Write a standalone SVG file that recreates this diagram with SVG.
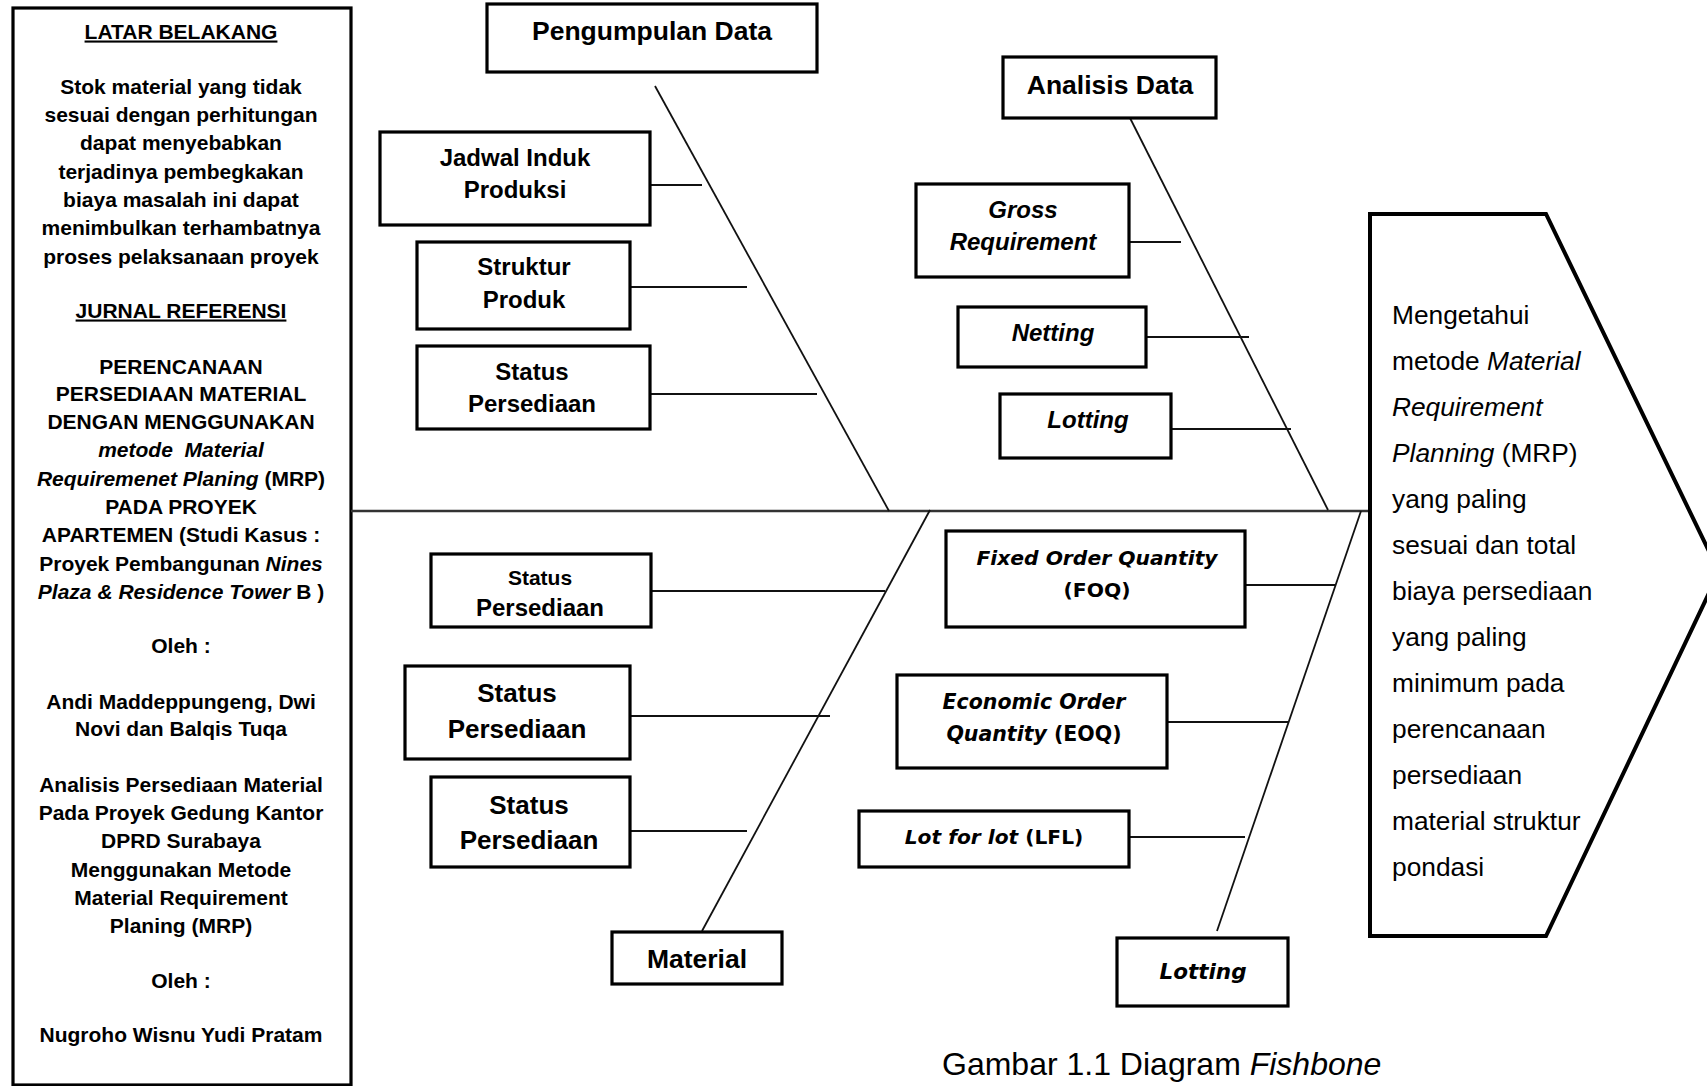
<svg xmlns="http://www.w3.org/2000/svg" width="1707" height="1086" viewBox="0 0 1707 1086">
<style>
.box{fill:#fff;stroke:#000;stroke-width:3.2}
.head{fill:#fff;stroke:#000;stroke-width:4}
.bone{stroke:#111;stroke-width:1.8;fill:none}
.spine{stroke:#333;stroke-width:2.4;fill:none}
.tick{stroke:#111;stroke-width:1.8;fill:none}
.lt{font-family:"Liberation Sans",Arial,sans-serif;font-weight:bold;font-size:21px;text-anchor:middle;fill:#000}
.u{text-decoration:underline}
.i{font-style:italic}
.n{font-style:normal}
.lbl{font-family:"Liberation Sans",Arial,sans-serif;font-weight:bold;text-anchor:middle;fill:#000}
.dv{font-family:"DejaVu Sans",Verdana,sans-serif;font-weight:bold;text-anchor:middle;fill:#000}
.hd{font-family:"Liberation Sans",Arial,sans-serif;font-size:26.3px;fill:#000}
.cap{font-family:"Liberation Sans",Arial,sans-serif;font-size:32px;fill:#000}
</style>

<g id="latar">
<rect class="box" x="13" y="8" width="338" height="1077"/>
<text class="lt u" x="181" y="38.5">LATAR BELAKANG</text>
<text class="lt" x="181" y="93.5">Stok material yang tidak</text>
<text class="lt" x="181" y="121.5">sesuai dengan perhitungan</text>
<text class="lt" x="181" y="150">dapat menyebabkan</text>
<text class="lt" x="181" y="178.5">terjadinya pembegkakan</text>
<text class="lt" x="181" y="206.5">biaya masalah ini dapat</text>
<text class="lt" x="181" y="235">menimbulkan terhambatnya</text>
<text class="lt" x="181" y="263.5">proses pelaksanaan proyek</text>
<text class="lt u" x="181" y="317.5">JURNAL REFERENSI</text>
<text class="lt" x="181" y="373.5">PERENCANAAN</text>
<text class="lt" x="181" y="400.5">PERSEDIAAN MATERIAL</text>
<text class="lt" x="181" y="428.5">DENGAN MENGGUNAKAN</text>
<text class="lt i" x="181" y="457" xml:space="preserve">metode  Material</text>
<text class="lt" x="181" y="485.5"><tspan class="i">Requiremenet Planing</tspan> (MRP)</text>
<text class="lt" x="181" y="513.5">PADA PROYEK</text>
<text class="lt" x="181" y="542">APARTEMEN (Studi Kasus :</text>
<text class="lt" x="181" y="570.5">Proyek Pembangunan <tspan class="i">Nines</tspan></text>
<text class="lt" x="181" y="598.5"><tspan class="i">Plaza &amp; Residence Tower</tspan> B )</text>
<text class="lt" x="181" y="653">Oleh :</text>
<text class="lt" x="181" y="708.5">Andi Maddeppungeng, Dwi</text>
<text class="lt" x="181" y="735.5">Novi dan Balqis Tuqa</text>
<text class="lt" x="181" y="791.5">Analisis Persediaan Material</text>
<text class="lt" x="181" y="819.5">Pada Proyek Gedung Kantor</text>
<text class="lt" x="181" y="848">DPRD Surabaya</text>
<text class="lt" x="181" y="876.5">Menggunakan Metode</text>
<text class="lt" x="181" y="904.5">Material Requirement</text>
<text class="lt" x="181" y="932.5">Planing (MRP)</text>
<text class="lt" x="181" y="987.5">Oleh :</text>
<text class="lt" x="181" y="1041.5">Nugroho Wisnu Yudi Pratam</text>
</g>

<g id="connectors">
<line class="spine" x1="351" y1="511" x2="1370" y2="511"/>
<line class="bone" x1="655" y1="86" x2="889" y2="511"/>
<line class="bone" x1="1130" y1="118" x2="1328" y2="510"/>
<line class="bone" x1="930" y1="510" x2="702" y2="931"/>
<line class="bone" x1="1361" y1="511" x2="1217" y2="931"/>
<line class="tick" x1="650" y1="185" x2="702" y2="185"/>
<line class="tick" x1="630" y1="287" x2="747" y2="287"/>
<line class="tick" x1="650" y1="394" x2="817" y2="394"/>
<line class="tick" x1="1129" y1="242" x2="1181" y2="242"/>
<line class="tick" x1="1146" y1="337" x2="1249" y2="337"/>
<line class="tick" x1="1171" y1="429" x2="1291" y2="429"/>
<line class="tick" x1="651" y1="591" x2="885" y2="591"/>
<line class="tick" x1="630" y1="716" x2="830" y2="716"/>
<line class="tick" x1="630" y1="831" x2="747" y2="831"/>
<line class="tick" x1="1245" y1="585" x2="1336" y2="585"/>
<line class="tick" x1="1167" y1="722" x2="1289" y2="722"/>
<line class="tick" x1="1129" y1="837" x2="1245" y2="837"/>
</g>

<g id="pengumpulan">
<rect class="box" x="487" y="4" width="330" height="68"/>
<text class="lbl" x="652" y="39.5" font-size="26.5">Pengumpulan Data</text>
</g>
<g id="jadwal">
<rect class="box" x="380" y="132" width="270" height="93"/>
<text class="lbl" x="515" y="166" font-size="24">Jadwal Induk</text>
<text class="lbl" x="515" y="197.5" font-size="24">Produksi</text>
</g>
<g id="struktur">
<rect class="box" x="417" y="242" width="213" height="87"/>
<text class="lbl" x="524" y="275" font-size="24">Struktur</text>
<text class="lbl" x="524" y="307.5" font-size="24">Produk</text>
</g>
<g id="status1">
<rect class="box" x="417" y="346" width="233" height="83"/>
<text class="lbl" x="532" y="380" font-size="24">Status</text>
<text class="lbl" x="532" y="412" font-size="24">Persediaan</text>
</g>

<g id="analisis">
<rect class="box" x="1003" y="57" width="213" height="61"/>
<text class="lbl" x="1110" y="93.5" font-size="26.5">Analisis Data</text>
</g>
<g id="gross">
<rect class="box" x="916" y="184" width="213" height="93"/>
<text class="lbl i" x="1023" y="218" font-size="24">Gross</text>
<text class="lbl i" x="1023" y="250" font-size="24">Requirement</text>
</g>
<g id="netting">
<rect class="box" x="958" y="307" width="188" height="60"/>
<text class="lbl i" x="1053" y="341" font-size="24">Netting</text>
</g>
<g id="lotting1">
<rect class="box" x="1000" y="394" width="171" height="64"/>
<text class="lbl i" x="1088" y="428" font-size="24">Lotting</text>
</g>

<g id="status2">
<rect class="box" x="431" y="554" width="220" height="73"/>
<text class="lbl" x="540" y="584.5" font-size="21">Status</text>
<text class="lbl" x="540" y="615.5" font-size="24">Persediaan</text>
</g>
<g id="status3">
<rect class="box" x="405" y="666" width="225" height="93"/>
<text class="lbl" x="517" y="702" font-size="26">Status</text>
<text class="lbl" x="517" y="738" font-size="26">Persediaan</text>
</g>
<g id="status4">
<rect class="box" x="431" y="777" width="199" height="90"/>
<text class="lbl" x="529" y="814" font-size="26">Status</text>
<text class="lbl" x="529" y="849" font-size="26">Persediaan</text>
</g>
<g id="material">
<rect class="box" x="612" y="932" width="170" height="52"/>
<text class="lbl" x="697" y="968" font-size="26.5">Material</text>
</g>

<g id="foq">
<rect class="box" x="946" y="531" width="299" height="96"/>
<text class="dv i" x="1097" y="564.5" font-size="20.3">Fixed Order Quantity</text>
<text class="dv" x="1097" y="596.5" font-size="20.3">(FOQ)</text>
</g>
<g id="eoq">
<rect class="box" x="897" y="675" width="270" height="93"/>
<text class="dv i" x="1034" y="708.5" font-size="20.5">Economic Order</text>
<text class="dv" x="1034" y="740.5" font-size="20.5"><tspan class="i">Quantity</tspan> (EOQ)</text>
</g>
<g id="lfl">
<rect class="box" x="859" y="811" width="270" height="56"/>
<text class="dv" x="994" y="843.5" font-size="20.2"><tspan class="i">Lot for lot</tspan> (LFL)</text>
</g>
<g id="lotting2">
<rect class="box" x="1117" y="938" width="171" height="68"/>
<text class="dv i" x="1203" y="979" font-size="21.5">Lotting</text>
</g>

<g id="tujuan">
<polygon class="head" points="1370,214 1546,214 1719,572 1546,936 1370,936"/>
<text class="hd" x="1392" y="324">Mengetahui</text>
<text class="hd" x="1392" y="370">metode <tspan class="i">Material</tspan></text>
<text class="hd i" x="1392" y="416">Requirement</text>
<text class="hd" x="1392" y="462"><tspan class="i">Planning</tspan> (MRP)</text>
<text class="hd" x="1392" y="508">yang paling</text>
<text class="hd" x="1392" y="554">sesuai dan total</text>
<text class="hd" x="1392" y="600">biaya persediaan</text>
<text class="hd" x="1392" y="646">yang paling</text>
<text class="hd" x="1392" y="692">minimum pada</text>
<text class="hd" x="1392" y="738">perencanaan</text>
<text class="hd" x="1392" y="784">persediaan</text>
<text class="hd" x="1392" y="830">material struktur</text>
<text class="hd" x="1392" y="876">pondasi</text>
</g>

<g id="caption">
<text class="cap" x="942" y="1075">Gambar 1.1 Diagram <tspan class="i">Fishbone</tspan></text>
</g>
</svg>
